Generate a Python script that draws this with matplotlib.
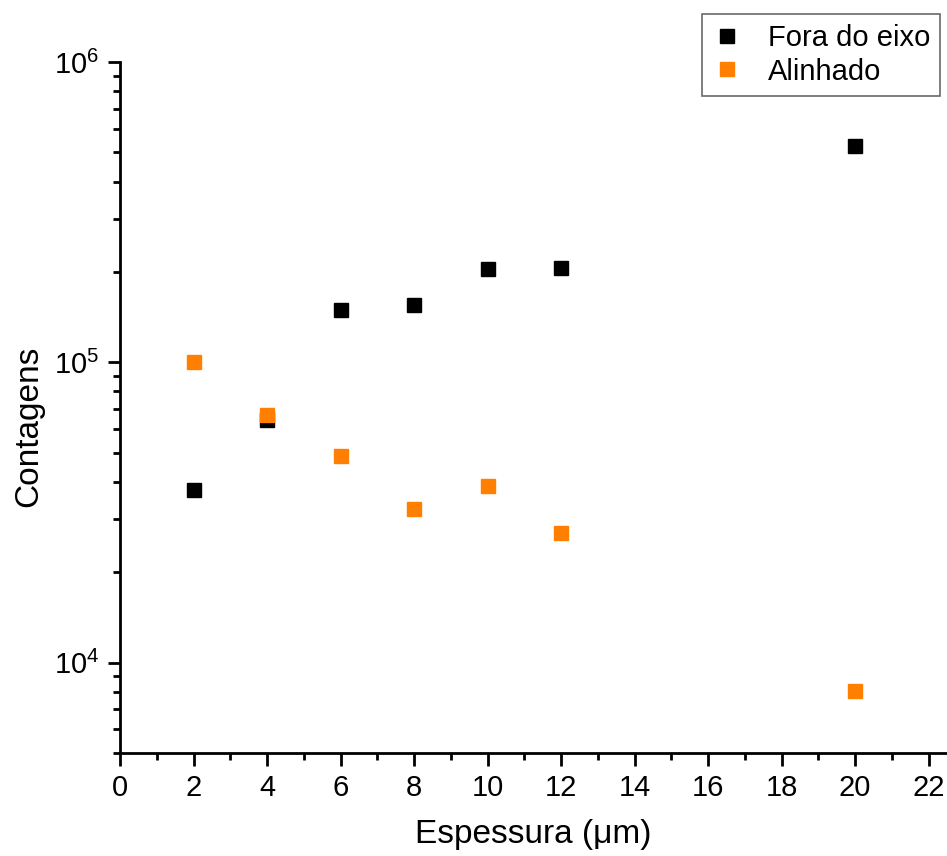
import matplotlib
matplotlib.use("Agg")
from matplotlib import pyplot as plt
from matplotlib.ticker import LogLocator, MultipleLocator, NullFormatter

plt.rcParams['font.family'] = ['Liberation Sans', 'DejaVu Sans']
plt.rcParams['mathtext.fontset'] = 'custom'
plt.rcParams['mathtext.rm'] = 'Liberation Sans'
plt.rcParams['mathtext.it'] = 'Liberation Sans'

# data
espessura = [2, 4, 6, 8, 10, 12, 20]
fora_do_eixo = [37700, 64400, 149600, 155400, 204700, 206200, 525000]
alinhado = [100000, 66900, 48900, 32500, 38800, 27100, 8070]

fig = plt.figure(figsize=(9.47, 8.56), dpi=100)
ax = fig.add_axes([120/947, 103/856, 827/947, 691/856])

ax.plot(espessura, fora_do_eixo, 's', color='black', markersize=10, label='Fora do eixo')
ax.plot(espessura, alinhado, 's', color='#ff8000', markersize=10, label='Alinhado')

ax.set_yscale('log')
ax.set_xlim(0, 22.5)
ax.set_ylim(5000, 1e6)
ax.xaxis.set_major_locator(MultipleLocator(2))
ax.xaxis.set_minor_locator(MultipleLocator(1))
ax.yaxis.set_major_locator(LogLocator(base=10, numticks=10))
ax.yaxis.set_minor_locator(LogLocator(base=10, subs=range(2, 10), numticks=20))
ax.yaxis.set_minor_formatter(NullFormatter())

for s in ['top', 'right']:
    ax.spines[s].set_visible(False)
for s in ['left', 'bottom']:
    ax.spines[s].set_linewidth(2)

ax.tick_params(which='major', direction='out', length=9, width=2, labelsize=21, pad=6)
ax.tick_params(which='minor', direction='out', length=5, width=2)

ax.set_xlabel('Espessura (\u03bcm)', fontsize=24, labelpad=12)
ax.set_ylabel('Contagens', fontsize=24)
ax.yaxis.set_label_coords(-0.092, 0.473)

leg = ax.legend(loc='upper right', bbox_to_anchor=(0.992, 1.07), fontsize=21,
                frameon=True, fancybox=False, edgecolor='#444444', handlelength=1,
                handletextpad=0.9, borderpad=0.35, labelspacing=0.2, borderaxespad=0)
leg.get_frame().set_linewidth(1.2)

fig.savefig('out.png', dpi=100)
